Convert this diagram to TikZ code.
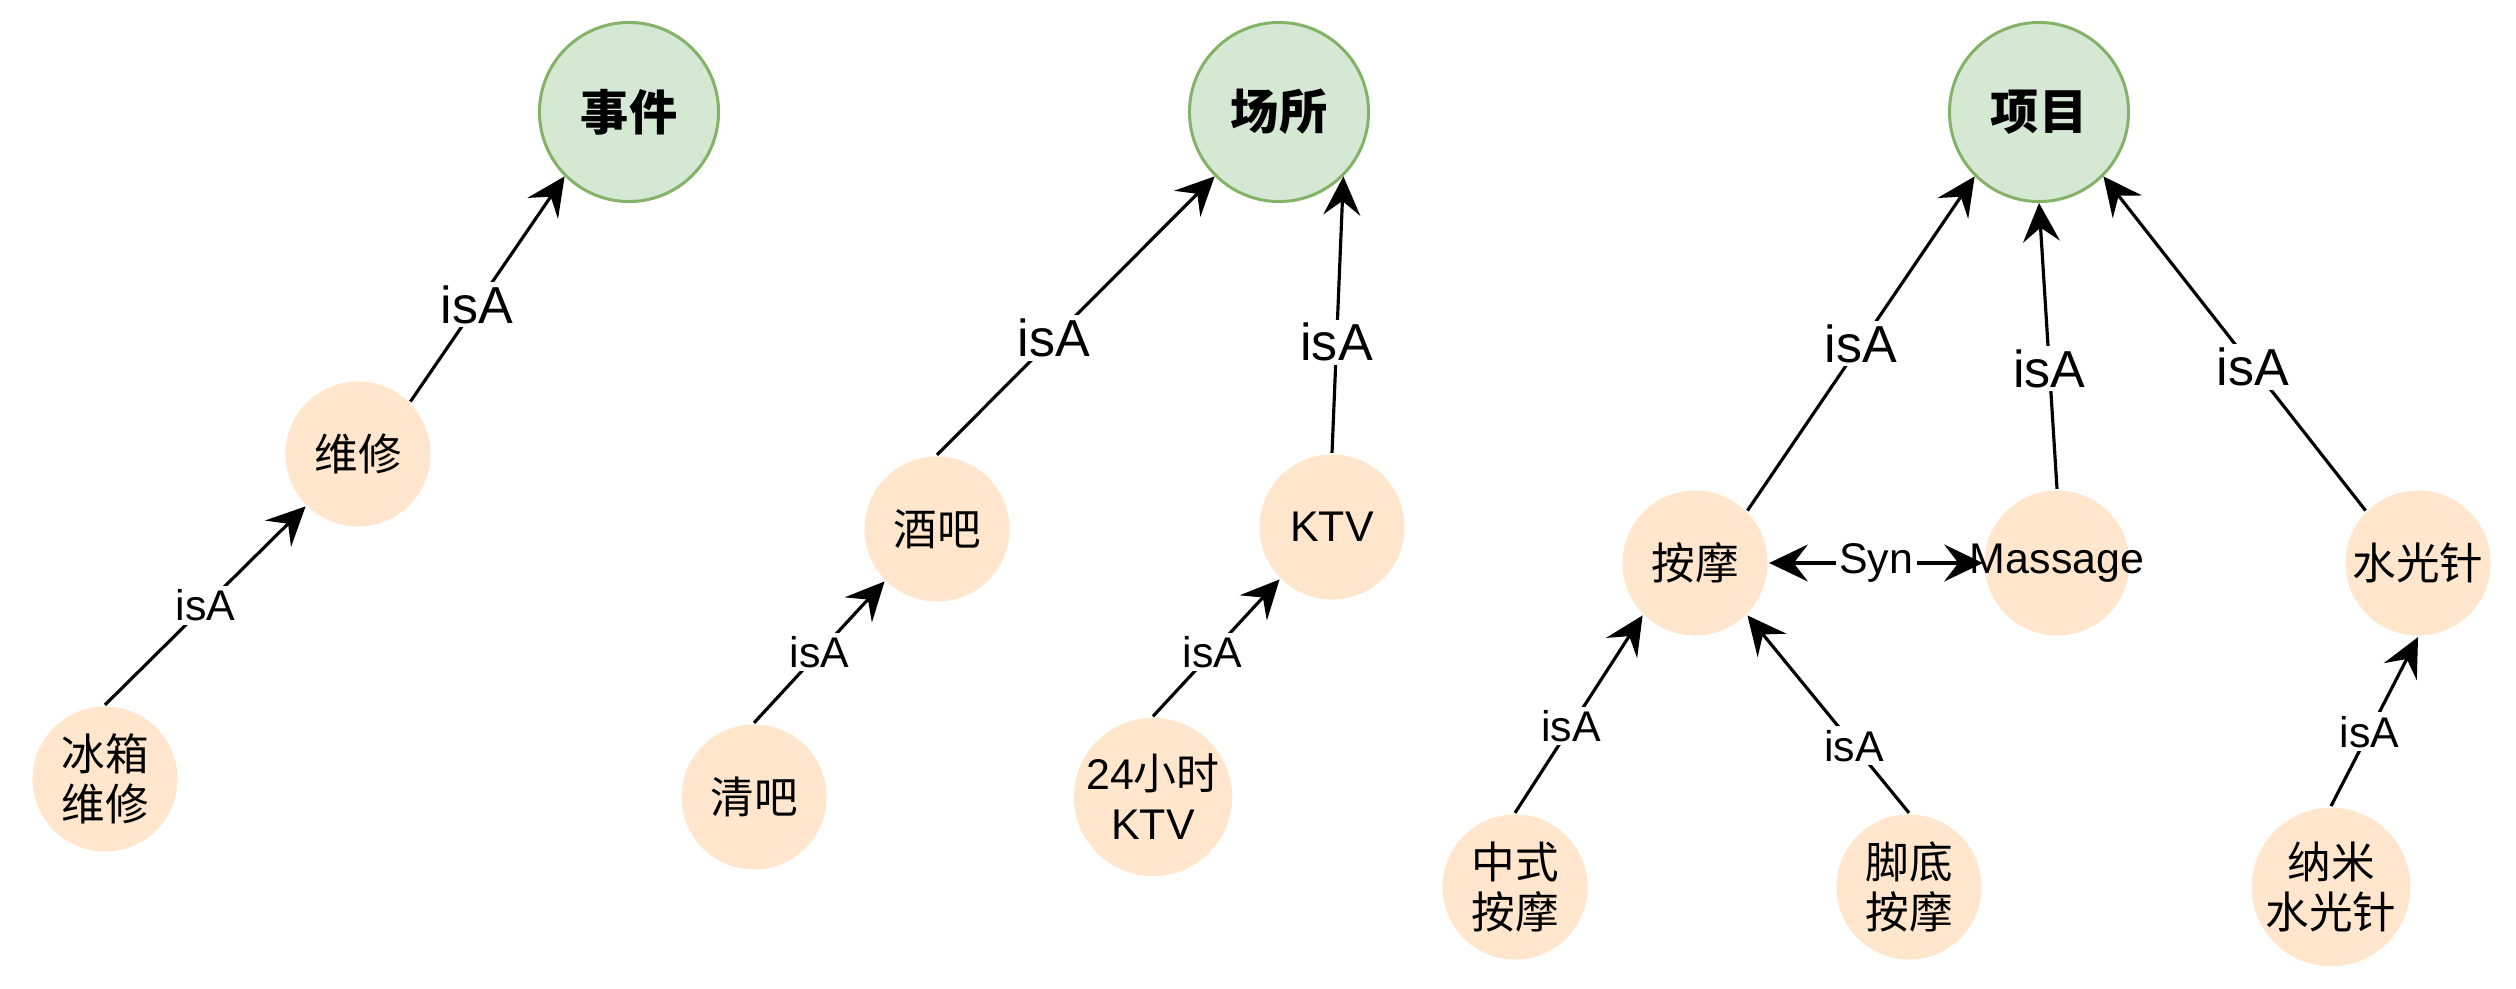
\documentclass[tikz,border=0pt]{standalone}
\usepackage{fontspec}
\setmainfont{Liberation Sans}
\newfontfamily\cjk{Noto Sans CJK SC}
\usepackage{tikz}
\usetikzlibrary{arrows.meta}
\definecolor{conceptfill}{RGB}{213,232,212}
\definecolor{conceptline}{RGB}{130,179,102}
\definecolor{itemfill}{RGB}{255,230,204}
\tikzset{every picture/.style={line width=.9pt}}

\begin{document}
\begin{tikzpicture}[x=.01cm,y=-.01cm,
 every node/.style={font=\fontsize{12.2}{14.2}\selectfont},
 concept/.style={circle,draw=conceptline,fill=conceptfill,line width=.85pt,
  minimum size=1.79cm,inner sep=0pt,font=\fontsize{13.7}{16}\selectfont\cjk\bfseries},
 item/.style={circle,fill=itemfill,minimum size=1.45cm,inner sep=0pt,align=center},
 cjkitem/.style={item,font=\fontsize{12.4}{14.2}\selectfont\cjk},
 link/.style={-{Stealth[length=11pt,width=10.5pt,inset=4pt]}},
 synlink/.style={{Stealth[length=11pt,width=10.5pt,inset=4pt]}-{Stealth[length=11pt,width=10.5pt,inset=4pt]}},
 isa/.style={fill=white,inner sep=1pt},
 bigisa/.style={isa,font=\fontsize{14.8}{17}\selectfont}]
 \useasboundingbox (0,0) rectangle (2516,988);
 % top concepts
 \node[concept] (shijian) at (629,112) {事件};
 \node[concept] (changsuo) at (1279,112) {场所};
 \node[concept] (xiangmu) at (2039,112) {项目};
 % events
 \node[cjkitem] (weixiu) at (358,454) {维修};
 \node[cjkitem] (bingxiang) at (105,779) {冰箱\\维修};
 % places
 \node[cjkitem] (jiuba) at (937,529) {酒吧};
 \node[item] (ktv) at (1332,527) {KTV};
 \node[cjkitem] (qingba) at (754,797) {清吧};
 \node[item] (ktvday) at (1153,797) {24{\cjk 小时}\\KTV};
 % items
 \node[cjkitem] (anmo) at (1695,563) {按摩};
 \node[item,label={center:Massage}] (massage) at (2057,563) {};
 \node[cjkitem] (shuiguang) at (2418,563) {水光针};
 \node[cjkitem] (zhongshi) at (1515,887) {中式\\按摩};
 \node[cjkitem] (jiaodi) at (1909,887) {脚底\\按摩};
 \node[cjkitem] (nami) at (2331,887) {纳米\\水光针};

 \draw[link] (weixiu.north east) -- node[bigisa,pos=.43] {isA} (shijian.south west);
 \draw[link] (bingxiang.north) -- node[isa] {isA} (weixiu.south west);
 \draw[link] (jiuba.north) -- node[bigisa,pos=.42] {isA} (changsuo.south west);
 \draw[link] (ktv.north) -- node[bigisa,pos=.4] {isA} (changsuo.south east);
 \draw[link] (qingba.north) -- node[isa] {isA} (jiuba.south west);
 \draw[link] (ktvday.north) -- node[isa,pos=.47] {isA} (ktv.south west);
 \draw[link] (anmo.north east) -- node[bigisa] {isA} (xiangmu.south west);
 \draw[link] (massage.north) -- node[bigisa,pos=.42] {isA} (xiangmu.south);
 \draw[link] (shuiguang.north west) -- node[bigisa,pos=.43] {isA} (xiangmu.south east);
 \draw[link] (zhongshi.north) -- node[isa,pos=.44] {isA} (anmo.south west);
 \draw[link] (jiaodi.north) -- node[isa,pos=.34] {isA} (anmo.south east);
 \draw[link] (nami.north) -- node[isa,pos=.44] {isA} (shuiguang.south);
 \draw[synlink] (anmo.east) -- node[isa] {Syn} (massage.west);
\end{tikzpicture}
\end{document}
